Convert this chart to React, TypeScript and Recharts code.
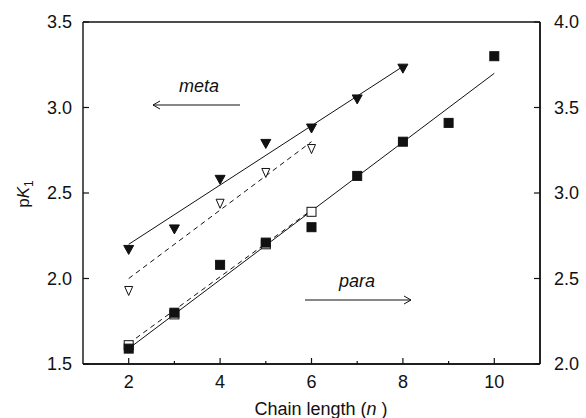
import { ComposedChart, Line, Scatter, XAxis, YAxis, ReferenceLine } from 'recharts';

const xTicks = [2, 3, 4, 5, 6, 7, 8, 9, 10];
const leftTicks = [1.5, 2.0, 2.5, 3.0, 3.5];
const rightTicks = [2.0, 2.5, 3.0, 3.5, 4.0];

// meta series
const metaFilledN = [2, 3, 4, 5, 6, 7, 8];
const metaFilledPK = [2.17, 2.29, 2.58, 2.79, 2.88, 3.05, 3.23];
const metaOpenN = [2, 4, 5, 6];
const metaOpenPK = [1.93, 2.44, 2.62, 2.76];

// para series
const paraFilledN = [2, 3, 4, 5, 6, 7, 8, 9, 10];
const paraFilledPK = [1.59, 1.8, 2.08, 2.21, 2.3, 2.6, 2.8, 2.91, 3.3];
const paraOpenN = [2, 3, 5, 6];
const paraOpenPK = [1.61, 1.79, 2.2, 2.39];

// fitted lines (end points)
const metaFitN = [2, 8];
const metaFitPK = [2.2, 3.24];
const metaOpenFitN = [2, 6];
const metaOpenFitPK = [2.0, 2.8];
const paraFitN = [2, 10];
const paraFitPK = [1.59, 3.2];
const paraOpenFitN = [2, 6];
const paraOpenFitPK = [1.62, 2.4];

const toPoints = (ns: number[], pks: number[]) => ns.map((n, i) => ({ n, pk: pks[i] }));

const FONT = '"Liberation Sans", Arial, sans-serif';
const INK = '#111';
const TICK_FONT = 18;

const TriDown = ({ cx, cy, open }: any) => {
  const w = open ? 4 : 5;
  return (
    <polygon
      points={`${cx - w},${cy - 4} ${cx + w},${cy - 4} ${cx},${cy + 5}`}
      fill={open ? '#fff' : INK}
      stroke={INK}
      strokeWidth={1}
    />
  );
};

const Square = ({ cx, cy, open }: any) => (
  <rect
    x={cx - 4.5}
    y={cy - 4.5}
    width={9}
    height={9}
    fill={open ? '#fff' : INK}
    stroke={INK}
    strokeWidth={1}
  />
);

const XTick = ({ x, y, payload }: any) => {
  const major = payload.value % 2 === 0;
  return (
    <g>
      <line x1={x} x2={x} y1={y} y2={y - (major ? 6 : 3)} stroke={INK} strokeWidth={1.2} />
      {major && (
        <text x={x} y={y + 24} textAnchor="middle" fontSize={TICK_FONT} fontFamily={FONT} fill={INK}>
          {payload.value}
        </text>
      )}
    </g>
  );
};

const LeftTick = ({ x, y, payload }: any) => (
  <g>
    <line x1={x} x2={x + 6} y1={y} y2={y} stroke={INK} strokeWidth={1.2} />
    <text x={x - 11} y={y + 6} textAnchor="end" fontSize={TICK_FONT} fontFamily={FONT} fill={INK}>
      {payload.value.toFixed(1)}
    </text>
  </g>
);

const RightTick = ({ x, y, payload }: any) => (
  <g>
    <line x1={x} x2={x - 6} y1={y} y2={y} stroke={INK} strokeWidth={1.2} />
    <text x={x + 14} y={y + 6} textAnchor="start" fontSize={TICK_FONT} fontFamily={FONT} fill={INK}>
      {payload.value.toFixed(1)}
    </text>
  </g>
);

export default function App() {
  return (
    <div style={{ position: 'absolute', left: 0, top: 0, width: 586, height: 418, background: '#fff' }}>
      <ComposedChart width={586} height={418} margin={{ top: 22, right: 0, bottom: 0, left: 0 }}>
        <XAxis
          type="number"
          dataKey="n"
          domain={[1, 11]}
          ticks={xTicks}
          interval={0}
          tickSize={0}
          tickMargin={0}
          tick={<XTick />}
          height={54}
          stroke={INK}
          strokeWidth={1.4}
        />
        <YAxis
          yAxisId="left"
          type="number"
          domain={[1.5, 3.5]}
          ticks={leftTicks}
          interval={0}
          tickSize={0}
          tickMargin={0}
          tick={<LeftTick />}
          width={83}
          stroke={INK}
          strokeWidth={1.4}
        />
        <YAxis
          yAxisId="right"
          orientation="right"
          type="number"
          domain={[2.0, 4.0]}
          allowDataOverflow
          ticks={rightTicks}
          interval={0}
          tickSize={0}
          tickMargin={0}
          tick={<RightTick />}
          width={46}
          stroke={INK}
          strokeWidth={1.4}
        />
        {/* top and right edges of the frame */}
        <ReferenceLine yAxisId="right" y={4.0} stroke={INK} strokeWidth={1.4} ifOverflow="extendDomain" />
        <ReferenceLine yAxisId="right" y={2.0} stroke={INK} strokeWidth={1.4} ifOverflow="extendDomain" />
        <ReferenceLine yAxisId="right" x={11} stroke={INK} strokeWidth={1.4} ifOverflow="visible" />

        <Line yAxisId="left" data={toPoints(metaFitN, metaFitPK)} dataKey="pk" stroke={INK} strokeWidth={1} dot={false} isAnimationActive={false} />
        <Line yAxisId="left" data={toPoints(metaOpenFitN, metaOpenFitPK)} dataKey="pk" stroke={INK} strokeWidth={1} strokeDasharray="5 4" dot={false} isAnimationActive={false} />
        <Line yAxisId="left" data={toPoints(paraFitN, paraFitPK)} dataKey="pk" stroke={INK} strokeWidth={1} dot={false} isAnimationActive={false} />
        <Line yAxisId="left" data={toPoints(paraOpenFitN, paraOpenFitPK)} dataKey="pk" stroke={INK} strokeWidth={1} strokeDasharray="5 4" dot={false} isAnimationActive={false} />

        <Scatter yAxisId="left" data={toPoints(metaOpenN, metaOpenPK)} dataKey="pk" shape={(p: any) => <TriDown {...p} open />} isAnimationActive={false} />
        <Scatter yAxisId="left" data={toPoints(metaFilledN, metaFilledPK)} dataKey="pk" shape={(p: any) => <TriDown {...p} />} isAnimationActive={false} />
        <Scatter yAxisId="left" data={toPoints(paraOpenN, paraOpenPK)} dataKey="pk" shape={(p: any) => <Square {...p} open />} isAnimationActive={false} />
        <Scatter yAxisId="left" data={toPoints(paraFilledN, paraFilledPK)} dataKey="pk" shape={(p: any) => <Square {...p} />} isAnimationActive={false} />
      </ComposedChart>

      <svg width={586} height={418} style={{ position: 'absolute', left: 0, top: 0, pointerEvents: 'none' }}>
        <g fontFamily={FONT} fill={INK}>
          <text x={199} y={92} fontSize={18} fontStyle="italic" textAnchor="middle">meta</text>
          <line x1={153} y1={105} x2={240} y2={105} stroke={INK} strokeWidth={1} />
          <polyline points="160,101 153,105 160,109" fill="none" stroke={INK} strokeWidth={1} />

          <text x={357} y={287} fontSize={18} fontStyle="italic" textAnchor="middle">para</text>
          <line x1={305} y1={300} x2={411} y2={300} stroke={INK} strokeWidth={1} />
          <polyline points="404,296 411,300 404,304" fill="none" stroke={INK} strokeWidth={1} />

          <text x={321} y={415} fontSize={18} textAnchor="middle">
            Chain length (<tspan fontStyle="italic">n</tspan> )
          </text>
          <text x={29} y={194} fontSize={17} textAnchor="middle" transform="rotate(-90 29 194)">
            p<tspan fontStyle="italic">K</tspan>
            <tspan fontSize={12} dy={4}>1</tspan>
          </text>
        </g>
      </svg>
    </div>
  );
}
